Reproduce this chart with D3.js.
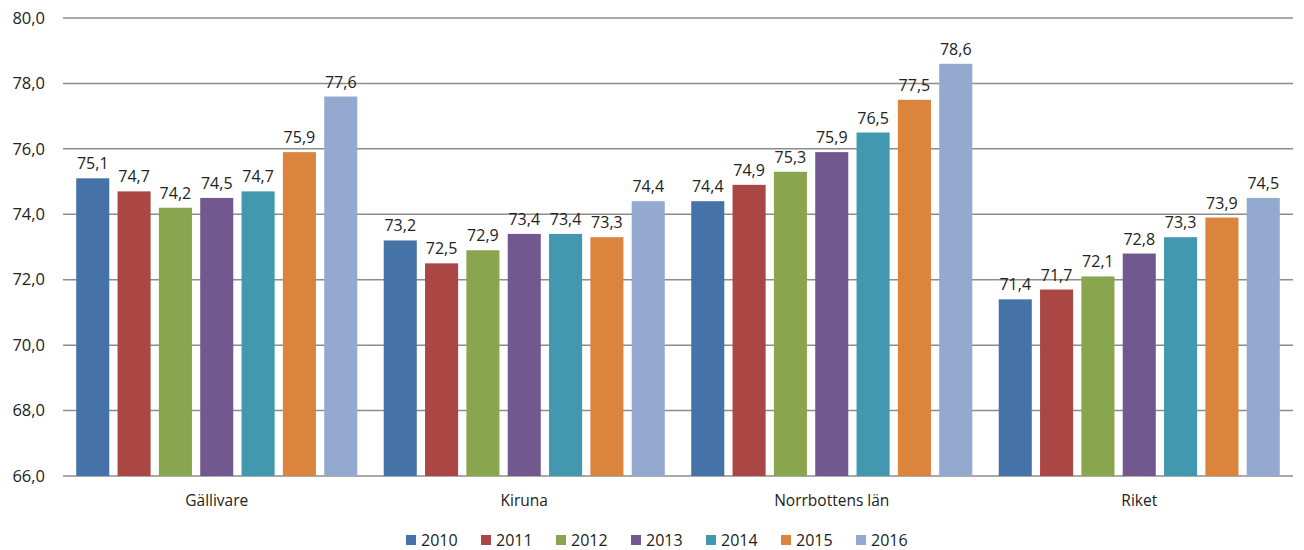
<!DOCTYPE html>
<html>
<head>
<meta charset="utf-8">
<script src="https://cdn.jsdelivr.net/npm/d3@7"></script>
<style>
  body { margin: 0; background: #fff; }
  .vis-chart { width: 1304px; height: 550px; }
  text { font-family: "Open Sans", "Noto Sans", sans-serif; fill: #222; }
</style>
</head>
<body>
<div class="vis-chart"></div>
<script>
const categories = ['Gällivare', 'Kiruna', 'Norrbottens län', 'Riket'];
const years = ['2010', '2011', '2012', '2013', '2014', '2015', '2016'];
const values2010 = [75.1, 73.2, 74.4, 71.4];
const values2011 = [74.7, 72.5, 74.9, 71.7];
const values2012 = [74.2, 72.9, 75.3, 72.1];
const values2013 = [74.5, 73.4, 75.9, 72.8];
const values2014 = [74.7, 73.4, 76.5, 73.3];
const values2015 = [75.9, 73.3, 77.5, 73.9];
const values2016 = [77.6, 74.4, 78.6, 74.5];
const yTicks = [66, 68, 70, 72, 74, 76, 78, 80];
const colors = ['#4572A7', '#AA4643', '#89A54E', '#71588F', '#4198AF', '#DB843D', '#93A9CF'];

const series = [values2010, values2011, values2012, values2013, values2014, values2015, values2016];

const dimensions = {
    width: 1304,
    height: 550,
    margin: { top: 18, right: 11, bottom: 74, left: 63 }
};
dimensions.boundedWidth = dimensions.width - dimensions.margin.left - dimensions.margin.right
dimensions.boundedHeight = dimensions.height - dimensions.margin.top - dimensions.margin.bottom

const svg = d3.select('.vis-chart').append('svg')
    .attr('width', dimensions.width)
    .attr('height', dimensions.height)

const fmt = v => d3.format('.1f')(v).replace('.', ',')

const xScale = d3.scaleBand()
    .domain(categories)
    .range([dimensions.margin.left, dimensions.margin.left + dimensions.boundedWidth])

const xInner = d3.scaleBand()
    .domain(years)
    .range([0, xScale.bandwidth()])
    .paddingInner(0.2)
    .paddingOuter(0.32)

const yScale = d3.scaleLinear()
    .domain([66, 80])
    .range([dimensions.margin.top + dimensions.boundedHeight, dimensions.margin.top])

// gridlines
svg.append('g')
    .selectAll('line')
    .data(yTicks)
    .enter().append('line')
    .attr('x1', dimensions.margin.left)
    .attr('x2', dimensions.margin.left + dimensions.boundedWidth)
    .attr('y1', d => yScale(d))
    .attr('y2', d => yScale(d))
    .attr('stroke', '#8c8c8c')
    .attr('stroke-width', 1.5)

// y axis labels
const yAxis = d3.axisLeft(yScale).tickValues(yTicks).tickFormat(fmt).tickSize(0).tickPadding(18)
const yG = svg.append('g')
    .attr('transform', 'translate(' + dimensions.margin.left + ',0)')
    .call(yAxis)
yG.select('.domain').remove()
yG.selectAll('text').style('font-size', '16.5px').attr('fill', '#222')

// x axis labels
const xAxis = d3.axisBottom(xScale).tickSize(0).tickPadding(19)
const xG = svg.append('g')
    .attr('transform', 'translate(0,' + (dimensions.margin.top + dimensions.boundedHeight) + ')')
    .call(xAxis)
xG.select('.domain').remove()
xG.selectAll('text').style('font-size', '15.5px').attr('fill', '#222')

// bars
const rows = []
categories.forEach((c, ci) => {
    years.forEach((y, yi) => {
        rows.push({ cat: c, year: y, value: series[yi][ci], color: colors[yi] })
    })
})

svg.append('g').selectAll('rect')
    .data(rows)
    .enter().append('rect')
    .attr('x', d => xScale(d.cat) + xInner(d.year))
    .attr('width', xInner.bandwidth())
    .attr('y', d => yScale(d.value))
    .attr('height', d => yScale(66) - yScale(d.value))
    .attr('fill', d => d.color)

svg.append('g').selectAll('text')
    .data(rows)
    .enter().append('text')
    .attr('x', d => xScale(d.cat) + xInner(d.year) + xInner.bandwidth() / 2)
    .attr('y', d => yScale(d.value) - 9)
    .attr('text-anchor', 'middle')
    .style('font-size', '16px')
    .text(d => fmt(d.value))

// legend
const legendX = d3.scaleBand().domain(years).range([406, 931])
const legend = svg.append('g').selectAll('g')
    .data(years)
    .enter().append('g')
    .attr('transform', d => 'translate(' + legendX(d) + ',540)')
legend.append('rect')
    .attr('x', 0)
    .attr('y', -5)
    .attr('width', 10)
    .attr('height', 10)
    .attr('fill', (d, i) => colors[i])
legend.append('text')
    .attr('x', 15)
    .attr('y', 0)
    .attr('dy', '0.35em')
    .style('font-size', '16px')
    .text(d => d)
</script>
</body>
</html>
